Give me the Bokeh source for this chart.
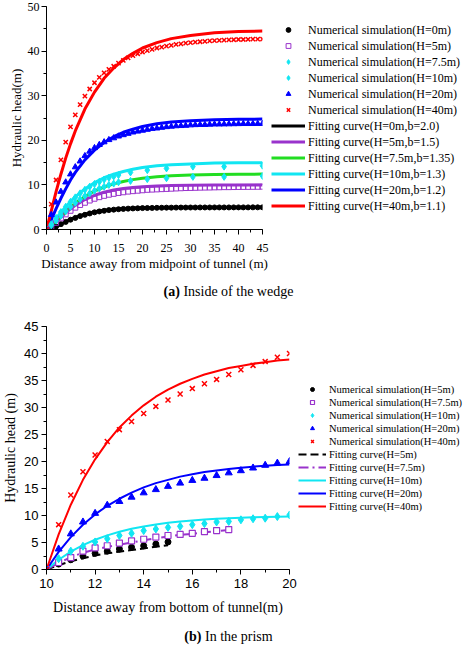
from bokeh.plotting import figure
from bokeh.models import Range1d, SingleIntervalTicker, Legend, LegendItem, Div
from bokeh.layouts import column
from bokeh.embed import file_html
from bokeh.resources import INLINE

# ---------------- (a) Inside of the wedge ----------------
top_x = [0, 1, 2, 3, 4, 5, 6, 7, 8, 9, 10, 11, 12, 13, 14, 15, 16, 17, 18, 19, 20, 21, 22,
         23, 24, 25, 26, 27, 28, 29, 30, 31, 32, 33, 34, 35, 36, 37, 38, 39, 40, 41, 42, 43, 44, 45]
top_num_H0 = [0, 0.3, 0.7, 1.2, 1.7, 2.2, 2.6, 3.0, 3.3, 3.6, 3.85, 4.05, 4.2, 4.35, 4.45, 4.55,
              4.62, 4.68, 4.72, 4.76, 4.8, 4.82, 4.84, 4.86, 4.88, 4.9, 4.9, 4.91, 4.92, 4.92, 4.93,
              4.93, 4.94, 4.94, 4.94, 4.95, 4.95, 4.95, 4.95, 4.96, 4.96, 4.96, 4.96, 4.97, 4.97, 4.97]
top_num_H5 = [0, 0.6, 1.5, 2.5, 3.4, 4.2, 4.9, 5.5, 6.0, 6.5, 6.9, 7.25, 7.55, 7.8, 8.0, 8.2,
              8.35, 8.5, 8.6, 8.7, 8.8, 8.9, 8.95, 9.0, 9.05, 9.1, 9.15, 9.2, 9.25, 9.3, 9.32,
              9.35, 9.38, 9.4, 9.42, 9.45, 9.47, 9.5, 9.5, 9.52, 9.54, 9.55, 9.56, 9.57, 9.58, 9.6]
top_num_H20 = [0, 3.3, 6.1, 8.5, 10.6, 12.4, 14.0, 15.3, 16.5, 17.5, 18.3, 19.0, 19.6, 20.1, 20.5,
               20.9, 21.2, 21.5, 21.8, 22.0, 22.2, 22.4, 22.6, 22.7, 22.85, 23.0, 23.1, 23.2, 23.25,
               23.3, 23.4, 23.45, 23.5, 23.5, 23.55, 23.6, 23.6, 23.62, 23.64, 23.66, 23.68, 23.7,
               23.7, 23.7, 23.72, 23.72]
top_num_H40 = [0, 5.7, 11.1, 15.6, 19.6, 23.0, 25.7, 28.0, 29.9, 31.5, 32.9, 34.1, 35.1, 35.9, 36.6,
               37.3, 37.9, 38.5, 39.0, 39.4, 39.8, 40.1, 40.4, 40.7, 40.9, 41.1, 41.3, 41.5, 41.6,
               41.8, 41.9, 42.0, 42.1, 42.2, 42.3, 42.35, 42.4, 42.45, 42.5, 42.55, 42.6, 42.6,
               42.65, 42.7, 42.7, 42.7]
top_x_cyan = [0, 1, 2, 3, 4, 5, 6, 7, 8, 9, 10, 11, 12, 13, 14, 15, 17.5, 21, 25, 30.5, 37, 45]
top_num_H7_5 = [0, 0.9, 2.0, 3.1, 4.1, 5.1, 6.0, 6.8, 7.5, 8.1, 8.7, 9.2, 9.6, 10.0, 10.3, 10.6,
                10.9, 11.3, 11.5, 11.8, 11.8, 12.0]
top_num_H10 = [0, 1.2, 2.6, 3.9, 5.1, 6.2, 7.2, 8.1, 8.9, 9.6, 10.2, 10.7, 11.2, 11.6, 11.9, 12.2,
               12.8, 13.3, 13.7, 14.1, 14.1, 14.3]

top_fit_x = [0, 1, 2, 3, 4, 5, 6, 8, 10, 12, 14, 16, 18, 20, 23, 26, 30, 35, 40, 45]
top_fit_H0 = [0, 0.2, 0.64, 1.18, 1.73, 2.25, 2.71, 3.45, 3.97, 4.33, 4.56, 4.72, 4.82, 4.88, 4.94,
              4.97, 4.99, 5.0, 5.0, 5.0]
top_fit_H5 = [0, 0.68, 1.68, 2.73, 3.72, 4.61, 5.41, 6.71, 7.67, 8.36, 8.85, 9.19, 9.44, 9.61, 9.77,
              9.87, 9.94, 9.97, 9.99, 10.0]
top_fit_H7_5 = [0, 0.82, 1.90, 3.0, 4.05, 5.02, 5.91, 7.41, 8.6, 9.52, 10.23, 10.77, 11.18, 11.5,
                11.83, 12.04, 12.22, 12.34, 12.39, 12.42]
top_fit_H10 = [0, 1.09, 2.46, 3.81, 5.09, 6.26, 7.32, 9.1, 10.5, 11.6, 12.4, 13.0, 13.5, 13.9, 14.3,
               14.5, 14.7, 14.9, 14.94, 14.97]
top_fit_H20 = [0, 2.2, 4.7, 7.0, 9.1, 11.1, 12.8, 15.6, 17.8, 19.5, 20.8, 21.8, 22.5, 23.1, 23.7,
               24.1, 24.4, 24.6, 24.7, 24.75]
top_fit_H40 = [0, 4.2, 8.5, 12.4, 16.0, 19.2, 22.1, 27.0, 30.8, 33.9, 36.2, 38.1, 39.5, 40.7, 41.9,
               42.8, 43.5, 44.1, 44.4, 44.5]

# ---------------- (b) In the prism ----------------
bot_x = [10, 10.5, 11, 11.5, 12, 12.5, 13, 13.5, 14, 14.5, 15, 15.5, 16, 16.5, 17, 17.5, 18, 18.5,
         19, 19.5, 20]
bot_num_H40 = [0, 8.3, 13.8, 18.1, 21.2, 23.7, 25.9, 27.4, 28.9, 30.2, 31.4, 32.5, 33.5, 34.4,
               35.2, 36.1, 37.0, 37.8, 38.5, 39.3, 40.0]
bot_fit_H40 = [0, 6.5, 12.0, 16.6, 20.4, 23.6, 26.3, 28.5, 30.4, 32.0, 33.3, 34.4, 35.3, 36.1,
               36.7, 37.3, 37.7, 38.1, 38.4, 38.7, 38.9]
bot_num_H20 = [0, 3.8, 6.6, 8.8, 10.4, 11.9, 12.6, 13.4, 14.2, 14.8, 15.4, 16.0, 16.5, 16.9, 17.4,
               17.9, 18.3, 18.8, 19.3, 19.7, 20.0]
bot_fit_H20 = [0, 3.27, 6.0, 8.3, 10.2, 11.8, 13.1, 14.25, 15.2, 16.0, 16.6, 17.2, 17.65, 18.05,
               18.35, 18.6, 18.85, 19.05, 19.2, 19.35, 19.45]
bot_num_H10 = [0, 2.0, 3.4, 4.3, 5.1, 5.7, 6.3, 6.7, 7.2, 7.5, 7.8, 8.0, 8.3, 8.5, 8.8, 8.9, 9.2,
               9.4, 9.5, 9.8, 10.1]
bot_fit_H10 = [0, 1.81, 3.30, 4.51, 5.51, 6.32, 6.99, 7.53, 7.98, 8.35, 8.65, 8.89, 9.09, 9.26,
               9.39, 9.50, 9.59, 9.67, 9.73, 9.78, 9.82]
bot_x_H7_5 = [10, 10.5, 11, 11.5, 12, 12.5, 13, 13.5, 14, 14.5, 15, 15.5, 16, 16.5, 17, 17.5]
bot_num_H7_5 = [0, 1.3, 2.2, 3.4, 4.0, 4.4, 4.9, 5.3, 5.6, 6.0, 6.3, 6.5, 6.7, 7.0, 7.2, 7.4]
bot_fit_H7_5 = [0, 1.2, 2.3, 3.1, 3.7, 4.2, 4.6, 5.0, 5.4, 5.8, 6.1, 6.4, 6.6, 6.9, 7.1, 7.3]
bot_x_H5 = [10, 10.5, 11, 11.5, 12, 12.5, 13, 13.5, 14, 14.5, 15]
bot_num_H5 = [0, 1.0, 1.8, 2.5, 3.0, 3.4, 3.8, 4.1, 4.4, 4.7, 5.1]
bot_fit_H5 = [0, 0.8, 1.5, 2.1, 2.6, 3.0, 3.3, 3.6, 3.9, 4.2, 4.5]

top_num_labels = ["Numerical simulation(H=0m)", "Numerical simulation(H=5m)",
                  "Numerical simulation(H=7.5m)", "Numerical simulation(H=10m)",
                  "Numerical simulation(H=20m)", "Numerical simulation(H=40m)"]
top_fit_labels = ["Fitting curve(H=0m,b=2.0)", "Fitting curve(H=5m,b=1.5)",
                  "Fitting curve(H=7.5m,b=1.35)", "Fitting curve(H=10m,b=1.3)",
                  "Fitting curve(H=20m,b=1.2)", "Fitting curve(H=40m,b=1.1)"]
bot_num_labels = ["Numerical simulation(H=5m)", "Numerical simulation(H=7.5m)",
                  "Numerical simulation(H=10m)", "Numerical simulation(H=20m)",
                  "Numerical simulation(H=40m)"]
bot_fit_labels = ["Fitting curve(H=5m)", "Fitting curve(H=7.5m)", "Fitting curve(H=10m)",
                  "Fitting curve(H=20m)", "Fitting curve(H=40m)"]

BLACK = "#000000"
PURPLE = "#9933CC"
GREEN = "#22DD22"
CYAN = "#11E6F2"
BLUE = "#0000FF"
RED = "#FF0000"
SERIF = "Liberation Serif"
SANS = "Liberation Sans"


def style_axes(p, xint, yint, tick_font, tick_size, lab_size):
    p.xaxis.ticker = SingleIntervalTicker(interval=xint, num_minor_ticks=2)
    p.yaxis.ticker = SingleIntervalTicker(interval=yint, num_minor_ticks=2)
    for ax in (p.xaxis, p.yaxis):
        ax.major_tick_in = 0
        ax.major_tick_out = 5
        ax.minor_tick_in = 0
        ax.minor_tick_out = 3
        ax.axis_line_color = "black"
        ax.major_tick_line_color = "black"
        ax.minor_tick_line_color = "black"
        ax.major_label_text_font = tick_font
        ax.major_label_text_font_size = tick_size
        ax.major_label_text_color = "black"
        ax.axis_label_text_font = SERIF
        ax.axis_label_text_font_size = lab_size
        ax.axis_label_text_font_style = "normal"
        ax.axis_label_text_color = "black"
    p.xgrid.visible = False
    p.ygrid.visible = False
    p.outline_line_color = None


# ---------- top figure ----------
p1 = figure(frame_width=216, frame_height=223, output_backend="svg", toolbar_location=None,
            x_range=Range1d(0, 45), y_range=Range1d(0, 50),
            min_border_left=0, min_border_right=0, min_border_top=6, min_border_bottom=45,
            x_axis_label="Distance away from midpoint of tunnel (m)",
            y_axis_label="Hydraulic head(m)")
style_axes(p1, 5, 10, SERIF, "12px", "13px")
p1.xaxis.major_label_standoff = 9
p1.xaxis.axis_label_standoff = 1
p1.yaxis.major_label_standoff = 2
p1.yaxis.axis_label_standoff = 1

f0 = p1.line(top_fit_x, top_fit_H0, line_color=BLACK, line_width=3)
f5 = p1.line(top_fit_x, top_fit_H5, line_color=PURPLE, line_width=3)
f75 = p1.line(top_fit_x, top_fit_H7_5, line_color=GREEN, line_width=3)
f10 = p1.line(top_fit_x, top_fit_H10, line_color=CYAN, line_width=3)
f20 = p1.line(top_fit_x, top_fit_H20, line_color=BLUE, line_width=3)
f40 = p1.line(top_fit_x, top_fit_H40, line_color=RED, line_width=3)

n0 = p1.scatter(top_x, top_num_H0, marker="circle", size=5, fill_color=BLACK, line_color=BLACK)
n5 = p1.scatter(top_x, top_num_H5, marker="square", size=5, fill_color="white", fill_alpha=0,
                line_color=PURPLE, line_width=1)
n75 = p1.scatter(top_x_cyan, top_num_H7_5, marker="diamond", size=7, fill_color=CYAN, line_color=CYAN)
n10 = p1.scatter(top_x_cyan, top_num_H10, marker="diamond", size=7, fill_color=CYAN, line_color=CYAN)
n20 = p1.scatter(top_x, top_num_H20, marker="triangle", size=6, fill_color=BLUE, line_color=BLUE)
n40 = p1.scatter(top_x, top_num_H40, marker="x", size=6, line_color=RED, line_width=1.5)

items1 = [LegendItem(label=l, renderers=[r]) for l, r in
          zip(top_num_labels + top_fit_labels, [n0, n5, n75, n10, n20, n40, f0, f5, f75, f10, f20, f40])]
leg1 = Legend(items=items1, location="left", orientation="vertical",
              label_text_font=SERIF, label_text_font_size="12px", label_text_color="black",
              glyph_width=34, glyph_height=12, label_height=12, label_standoff=3, spacing=1,
              padding=0, margin=9, border_line_color=None, background_fill_alpha=0)
p1.add_layout(leg1, "right")

# ---------- bottom figure ----------
p2 = figure(frame_width=243, frame_height=243, output_backend="svg", toolbar_location=None,
            x_range=Range1d(10, 20), y_range=Range1d(0, 45),
            min_border_left=0, min_border_right=0, min_border_top=12, min_border_bottom=48,
            x_axis_label="Distance away from bottom of tunnel(m)",
            y_axis_label="Hydraulic head (m)")
style_axes(p2, 2, 5, SANS, "13px", "14px")
p2.xaxis.major_label_standoff = 4
p2.xaxis.axis_label_standoff = 9
p2.yaxis.major_label_standoff = 3
p2.yaxis.axis_label_standoff = 3

g5 = p2.line(bot_x_H5, bot_fit_H5, line_color=BLACK, line_width=2, line_dash="8 4")
g75 = p2.line(bot_x_H7_5, bot_fit_H7_5, line_color=PURPLE, line_width=2, line_dash="10 4 2 4")
g10 = p2.line(bot_x, bot_fit_H10, line_color=CYAN, line_width=2)
g20 = p2.line(bot_x, bot_fit_H20, line_color=BLUE, line_width=2)
g40 = p2.line(bot_x, bot_fit_H40, line_color=RED, line_width=2)

m5 = p2.scatter(bot_x_H5, bot_num_H5, marker="circle", size=6, fill_color=BLACK, line_color=BLACK)
m75 = p2.scatter(bot_x_H7_5, bot_num_H7_5, marker="square", size=6, fill_color="white",
                 line_color=PURPLE, line_width=1.2)
m10 = p2.scatter(bot_x, bot_num_H10, marker="diamond", size=8, fill_color=CYAN, line_color=CYAN)
m20 = p2.scatter(bot_x, bot_num_H20, marker="triangle", size=7, fill_color=BLUE, line_color=BLUE)
m40 = p2.scatter(bot_x, bot_num_H40, marker="x", size=7, line_color=RED, line_width=1.5)

items2 = [LegendItem(label=l, renderers=[r]) for l, r in
          zip(bot_num_labels + bot_fit_labels, [m5, m75, m10, m20, m40, g5, g75, g10, g20, g40])]
leg2 = Legend(items=items2, location="left", orientation="vertical",
              label_text_font=SERIF, label_text_font_size="10.5px", label_text_color="black",
              glyph_width=28, glyph_height=10, label_height=10, label_standoff=3, spacing=2,
              padding=0, margin=9, border_line_color=None, background_fill_alpha=0)
p2.add_layout(leg2, "right")

cap_style = ("font-family:'Liberation Serif';font-size:14px;line-height:16px;text-align:center;"
             "color:black;width:457px;")
div_a = Div(text=f"<div style=\"{cap_style}padding-top:10px\"><b>(a)</b> Inside of the wedge</div>",
            width=457, height=40, margin=(0, 0, 0, 0))
div_b = Div(text=f"<div style=\"{cap_style}padding-top:12px\"><b>(b)</b> In the prism</div>",
            width=457, height=28, margin=(0, 0, 0, 0), styles={"overflow": "hidden"})

layout = column(p1, div_a, p2, div_b, spacing=0)
open("out.html", "w").write(file_html(layout, INLINE))
